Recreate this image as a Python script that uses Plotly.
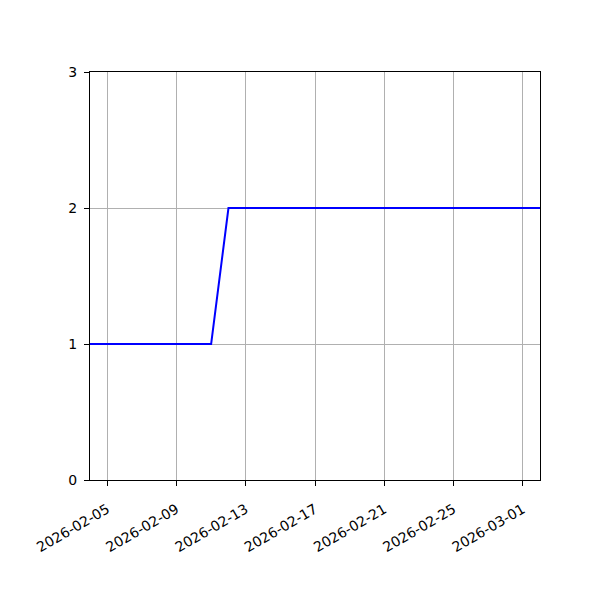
import pandas as pd
import plotly.graph_objects as go

dates = pd.date_range("2026-02-04", "2026-03-02", freq="D")
values = [1] * 8 + [2] * 19
tick_dates = ["2026-02-05", "2026-02-09", "2026-02-13", "2026-02-17",
              "2026-02-21", "2026-02-25", "2026-03-01"]
y_ticks = [0, 1, 2, 3]

fig = go.Figure()
fig.add_trace(go.Scatter(x=dates, y=values, mode="lines",
                         line=dict(color="blue", width=2)))

axis_style = dict(
    showline=True, linecolor="black", linewidth=1, mirror=True,
    ticks="outside", ticklen=5, tickcolor="black",
    showgrid=True, gridcolor="#b0b0b0", gridwidth=0.8,
    zeroline=False,
    tickfont=dict(family="DejaVu Sans", size=14, color="black"),
)

fig.update_xaxes(range=["2026-02-04", "2026-03-02"], tickvals=tick_dates,
                 ticktext=tick_dates, tickangle=-30, ticklabelstandoff=10,
                 **axis_style)
fig.update_yaxes(range=[0, 3], tickvals=y_ticks, ticklabelstandoff=4,
                 **axis_style)

# page adds an 8px offset, so margins are shifted to land on the reference
fig.update_layout(
    width=600, height=600,
    margin=dict(l=82, r=68, t=64, b=128),
    plot_bgcolor="white", paper_bgcolor="white",
    showlegend=False,
)

fig.write_html("out.html")
